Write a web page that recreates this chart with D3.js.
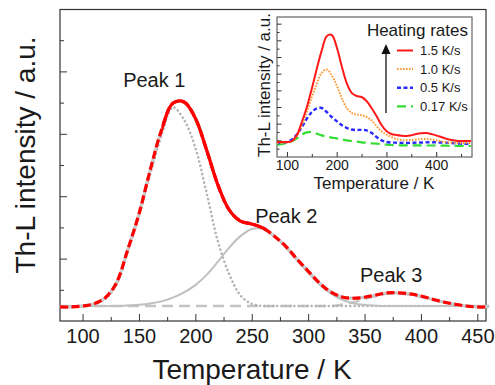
<!DOCTYPE html>
<html>
<head>
<meta charset="utf-8">
<script src="https://cdn.jsdelivr.net/npm/d3@7"></script>
<style>
  body { margin: 0; background: #fff; }
  text { font-family: "Liberation Sans", Arial, sans-serif; fill: #1a1a1a; }
</style>
</head>
<body>
<div class="chart"></div>
<script>
// main plot: temperature grid (K) and intensities (a.u.)
const temps = [80, 90, 100, 110, 120, 130, 140, 150, 160, 170, 180, 190, 200, 210, 220, 230, 240, 250, 260, 270,
    280, 290, 300, 310, 320, 330, 340, 350, 360, 370, 380, 390, 400, 410, 420, 430, 440, 450, 460];
const measured = [0.45, 0.45, 0.48, 0.55, 0.74, 1.22, 2.28, 3.43, 4.84, 6.12, 6.98, 7.02, 6.5, 5.48, 4.36, 3.56, 3.2, 3.11, 2.98, 2.72,
    2.4, 1.99, 1.6, 1.22, 0.93, 0.77, 0.73, 0.76, 0.83, 0.9, 0.9, 0.87, 0.8, 0.7, 0.61, 0.54, 0.48, 0.45, 0.45];
const peak1 = [0.45, 0.45, 0.47, 0.52, 0.7, 1.15, 2.2, 3.35, 4.7, 5.95, 6.85, 6.45, 5.55, 4.1, 2.55, 1.5, 0.82, 0.55, 0.48, 0.48,
    0.48, 0.48, 0.48, 0.48, 0.48, 0.48, 0.48, 0.48, 0.48, 0.48, 0.48, 0.48, 0.48, 0.48, 0.48, 0.48, 0.48, 0.48, 0.48];
const peak2 = [0.48, 0.48, 0.48, 0.48, 0.48, 0.48, 0.5, 0.52, 0.56, 0.63, 0.75, 0.92, 1.15, 1.48, 1.9, 2.35, 2.72, 2.95, 2.95, 2.72,
    2.36, 1.95, 1.55, 1.17, 0.88, 0.68, 0.57, 0.51, 0.49, 0.48, 0.48, 0.48, 0.48, 0.48, 0.48, 0.48, 0.48, 0.48, 0.48];
const peak3 = [0.48, 0.48, 0.48, 0.48, 0.48, 0.48, 0.48, 0.48, 0.48, 0.48, 0.48, 0.48, 0.48, 0.48, 0.48, 0.48, 0.48, 0.48, 0.48, 0.48,
    0.48, 0.48, 0.48, 0.48, 0.48, 0.52, 0.6, 0.7, 0.8, 0.87, 0.88, 0.84, 0.77, 0.68, 0.6, 0.53, 0.5, 0.48, 0.48];
const solidFrom = 170, solidTo = 262;
const xTickLabels = [100, 150, 200, 250, 300, 350, 400, 450];
const peakLabels = [{name: "Peak 1", t: 136, v: 7.5}, {name: "Peak 2", t: 253, v: 3.14}, {name: "Peak 3", t: 346, v: 1.25}];

// inset: heating-rate series
const insetTemps = [80, 90, 100, 110, 120, 130, 140, 150, 160, 170, 180, 190, 200, 210, 220, 230, 240, 250, 260, 270,
    280, 290, 300, 310, 320, 330, 340, 350, 360, 370, 380, 390, 400, 410, 420, 430, 440, 450, 460, 470];
const rate15 = [0.9, 0.9, 0.9, 0.96, 1.32, 2.1, 3.0, 4.1, 5.3, 6.4, 7.25, 7.32, 6.6, 5.46, 4.44, 3.85, 3.66, 3.6, 3.36, 2.94,
    2.46, 1.92, 1.56, 1.38, 1.32, 1.28, 1.26, 1.3, 1.38, 1.43, 1.44, 1.38, 1.3, 1.2, 1.1, 1.02, 0.98, 0.96, 0.96, 0.96];
const rate10 = [0.84, 0.85, 0.87, 0.95, 1.25, 1.9, 2.7, 3.6, 4.4, 5.05, 5.25, 4.9, 4.3, 3.55, 2.95, 2.65, 2.55, 2.5, 2.4, 2.2,
    1.85, 1.55, 1.35, 1.2, 1.08, 1.02, 1.01, 1.02, 1.05, 1.08, 1.08, 1.05, 1.0, 0.94, 0.88, 0.86, 0.84, 0.84, 0.84, 0.84];
const rate05 = [0.84, 0.86, 0.9, 1.05, 1.35, 1.8, 2.3, 2.7, 2.92, 2.94, 2.7, 2.4, 2.15, 1.92, 1.75, 1.65, 1.62, 1.63, 1.6, 1.45,
    1.2, 1.0, 0.9, 0.87, 0.86, 0.85, 0.84, 0.85, 0.86, 0.87, 0.88, 0.88, 0.88, 0.87, 0.86, 0.84, 0.82, 0.8, 0.79, 0.78];
const rate017 = [0.72, 0.78, 0.85, 0.95, 1.12, 1.35, 1.48, 1.5, 1.4, 1.3, 1.22, 1.16, 1.12, 1.06, 1.0, 0.96, 0.92, 0.88, 0.85, 0.82,
    0.8, 0.77, 0.74, 0.72, 0.71, 0.7, 0.7, 0.7, 0.7, 0.7, 0.69, 0.69, 0.69, 0.68, 0.68, 0.67, 0.67, 0.67, 0.66, 0.66];
const rateNames = ["1.5 K/s", "1.0 K/s", "0.5 K/s", "0.17 K/s"];
const insetTickLabels = [100, 200, 300, 400];

const W = 495, H = 385;
const svg = d3.select(".chart").append("svg")
    .attr("width", W)
    .attr("height", H);

// ---------- main plot ----------
const x = d3.scaleLinear().domain([80, 460]).range([60, 488.6]);
const y = d3.scaleLinear().domain([0, 10]).range([321, 9]);

svg.append("g")
    .attr("transform", "translate(0,321)")
    .call(d3.axisBottom(x).tickValues([125, 175, 225, 275, 325, 375, 425]).tickSize(-4).tickFormat(""))
    .call(g => g.select(".domain").remove())
    .call(g => g.selectAll("line").attr("stroke", "#333"));
svg.append("g")
    .attr("transform", "translate(0,321)")
    .call(d3.axisBottom(x).tickValues(xTickLabels).tickSize(-7).tickPadding(8))
    .call(g => g.select(".domain").remove())
    .call(g => g.selectAll("line").attr("stroke", "#333"))
    .call(g => g.selectAll("text").attr("font-size", 20).attr("fill", "#1a1a1a")
        .attr("font-family", "Liberation Sans, Arial, sans-serif"));

svg.append("g")
    .attr("transform", "translate(60,0)")
    .call(d3.axisLeft(y).tickValues([1, 3, 5, 7, 9]).tickSize(-4).tickFormat(""))
    .call(g => g.select(".domain").remove())
    .call(g => g.selectAll("line").attr("stroke", "#333"));
svg.append("g")
    .attr("transform", "translate(60,0)")
    .call(d3.axisLeft(y).tickValues([2, 4, 6, 8]).tickSize(-7).tickFormat(""))
    .call(g => g.select(".domain").remove())
    .call(g => g.selectAll("line").attr("stroke", "#333"));

svg.append("rect")
    .attr("x", 60).attr("y", 9.5)
    .attr("width", 426).attr("height", 311.5)
    .attr("fill", "none")
    .attr("stroke", "#333")
    .attr("stroke-width", 1.2);

const line = (vals) => d3.line()
    .x((d, i) => x(temps[i]))
    .y(d => y(d))
    .curve(d3.curveCatmullRom)(vals);

svg.append("path")
    .attr("d", line(peak3))
    .attr("fill", "none").attr("stroke", "#c4c4c4")
    .attr("stroke-width", 2.5).attr("stroke-dasharray", "11,6");
svg.append("path")
    .attr("d", line(peak1))
    .attr("fill", "none").attr("stroke", "#b4b4b4")
    .attr("stroke-width", 2.6).attr("stroke-linecap", "round").attr("stroke-dasharray", "0.1,4.2");
svg.append("path")
    .attr("d", line(peak2))
    .attr("fill", "none").attr("stroke", "#c0c0c0")
    .attr("stroke-width", 2);

// fit underneath the data
svg.append("path")
    .attr("d", line(measured))
    .attr("fill", "none").attr("stroke", "#c8c8c8")
    .attr("stroke-width", 3);
svg.append("path")
    .attr("d", line(measured))
    .attr("fill", "none").attr("stroke", "#ff0000")
    .attr("stroke-width", 3.2).attr("stroke-dasharray", "8,3.5");

svg.append("clipPath").attr("id", "solidPart")
    .append("rect")
    .attr("x", x(solidFrom)).attr("y", 0)
    .attr("width", x(solidTo) - x(solidFrom)).attr("height", H);
svg.append("path")
    .attr("d", line(measured))
    .attr("clip-path", "url(#solidPart)")
    .attr("fill", "none").attr("stroke", "#ff0000")
    .attr("stroke-width", 3.2);

svg.selectAll(".peak-label")
    .data(peakLabels)
    .enter()
    .append("text")
    .attr("class", "peak-label")
    .attr("x", d => x(d.t))
    .attr("y", d => y(d.v))
    .attr("font-size", 20)
    .text(d => d.name);

svg.append("text")
    .text("Temperature / K")
    .attr("x", 252).attr("y", 379)
    .attr("text-anchor", "middle")
    .attr("font-size", 28);

svg.append("text")
    .text("Th-L intensity / a.u.")
    .attr("text-anchor", "middle")
    .attr("transform", "translate(35,155)rotate(-90)")
    .attr("font-size", 28);

// ---------- inset ----------
const ix = d3.scaleLinear().domain([80, 472]).range([277, 472]);
const iy = d3.scaleLinear().domain([0, 8.4]).range([157, 17]);

const inset = svg.append("g");
inset.append("rect")
    .attr("x", 277).attr("y", 17)
    .attr("width", 195).attr("height", 140)
    .attr("fill", "#fff");

inset.append("g")
    .attr("transform", "translate(0,157)")
    .call(d3.axisBottom(ix).tickValues([150, 250, 350, 450]).tickSize(-3).tickFormat(""))
    .call(g => g.select(".domain").remove())
    .call(g => g.selectAll("line").attr("stroke", "#333"));
inset.append("g")
    .attr("transform", "translate(0,157)")
    .call(d3.axisBottom(ix).tickValues(insetTickLabels).tickSize(-5).tickPadding(3))
    .call(g => g.select(".domain").remove())
    .call(g => g.selectAll("line").attr("stroke", "#333"))
    .call(g => g.selectAll("text").attr("font-size", 14).attr("fill", "#1a1a1a")
        .attr("font-family", "Liberation Sans, Arial, sans-serif"));
inset.append("g")
    .attr("transform", "translate(277,0)")
    .call(d3.axisLeft(iy).tickValues([0.5, 1.5, 2.5, 3.5, 4.5, 5.5, 6.5, 7.5]).tickSize(-2.5).tickFormat(""))
    .call(g => g.select(".domain").remove())
    .call(g => g.selectAll("line").attr("stroke", "#333"));
inset.append("g")
    .attr("transform", "translate(277,0)")
    .call(d3.axisLeft(iy).tickValues([1, 2, 3, 4, 5, 6, 7, 8]).tickSize(-4.5).tickFormat(""))
    .call(g => g.select(".domain").remove())
    .call(g => g.selectAll("line").attr("stroke", "#333"));

inset.append("rect")
    .attr("x", 277).attr("y", 17)
    .attr("width", 195).attr("height", 140)
    .attr("fill", "none")
    .attr("stroke", "#444")
    .attr("stroke-width", 1);

const iline = (vals) => d3.line()
    .x((d, i) => ix(insetTemps[i]))
    .y(d => iy(d))
    .curve(d3.curveCatmullRom)(vals);

const rateSeries = [rate15, rate10, rate05, rate017];
const rateColors = ["#ff1a1a", "#ff9933", "#2a2aff", "#33dd33"];
const rateDash = [null, "1.6,1.4", "4,2.5", "9,5"];
const rateWidth = [2, 2, 2.4, 2.2];

[3, 2, 1, 0].forEach(k => {
    inset.append("path")
        .attr("d", iline(rateSeries[k]))
        .attr("fill", "none")
        .attr("stroke", rateColors[k])
        .attr("stroke-width", rateWidth[k])
        .attr("stroke-dasharray", rateDash[k]);
});

inset.append("text")
    .text("Temperature / K")
    .attr("x", 374).attr("y", 189)
    .attr("text-anchor", "middle")
    .attr("font-size", 17);
inset.append("text")
    .text("Th-L intensity / a.u.")
    .attr("text-anchor", "middle")
    .attr("transform", "translate(270,85)rotate(-90)")
    .attr("font-size", 17);

// legend
inset.append("text")
    .text("Heating rates")
    .attr("x", 468).attr("y", 36)
    .attr("text-anchor", "end")
    .attr("font-size", 17);

inset.append("line")
    .attr("x1", 386).attr("x2", 386)
    .attr("y1", 113).attr("y2", 52)
    .attr("stroke", "#111").attr("stroke-width", 1.3);
inset.append("path")
    .attr("d", "M386,44L381.5,54L390.5,54Z")
    .attr("fill", "#111");

const legend = inset.selectAll(".legend-item")
    .data(rateNames)
    .enter()
    .append("g")
    .attr("class", "legend-item")
    .attr("transform", (d, i) => "translate(0," + (55 + i * 18.6) + ")");
legend.append("line")
    .attr("x1", 397).attr("x2", 413)
    .attr("y1", -4.5).attr("y2", -4.5)
    .attr("stroke", (d, i) => rateColors[i])
    .attr("stroke-width", (d, i) => rateWidth[i])
    .attr("stroke-dasharray", (d, i) => rateDash[i]);
legend.append("text")
    .attr("x", 420).attr("y", 0)
    .attr("font-size", 13)
    .text(d => d);
</script>
</body>
</html>
